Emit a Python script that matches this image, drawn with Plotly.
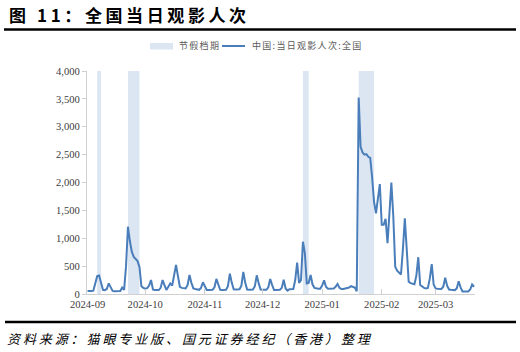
import plotly.graph_objects as go
import pandas as pd

# ---------------- data ----------------
start_date = "2024-09-10"
audience = [
    55, 50, 55, 60, 200, 320, 330, 200, 75, 70,
    90, 190, 120, 55, 50, 50, 50, 55, 115, 75,
    500, 1207, 950, 760, 665, 625, 590, 480, 140, 110,
    95, 105, 150, 250, 80, 70, 70, 70, 110, 250,
    160, 72, 130, 190, 150, 330, 520, 320, 130, 110,
    100, 100, 160, 340, 200, 100, 90, 80, 75, 110,
    210, 140, 72, 70, 70, 75, 120, 270, 170, 75,
    70, 70, 75, 140, 365, 200, 85, 80, 80, 85,
    150, 395, 200, 80, 75, 75, 80, 140, 335, 190,
    80, 75, 75, 75, 120, 270, 160, 70, 70, 70,
    75, 110, 255, 100, 60, 85, 85, 90, 250, 562,
    200, 250, 938, 740, 190, 200, 340, 170, 110, 100,
    95, 95, 150, 245, 130, 95, 95, 95, 100, 130,
    180, 110, 90, 90, 95, 100, 115, 140, 130, 115,
    50, 3525, 2640, 2540, 2500, 2510, 2460, 2440, 2090, 1650,
    1447, 1750, 1970, 1240, 1240, 1350, 910, 1450, 2000, 1400,
    490, 420, 380, 350, 800, 1357, 800, 221, 195, 180,
    175, 330, 660, 160, 130, 110, 100, 110, 280, 535,
    170, 100, 95, 90, 90, 130, 290, 150, 80, 75,
    70, 70, 100, 230, 120, 45, 45, 45, 45, 80,
    170, 130,
]
dates = pd.date_range(start_date, periods=len(audience), freq="D")

holiday_starts = ["2024-09-15", "2024-10-01", "2024-12-31", "2025-01-29"]
holiday_ends = ["2024-09-17", "2024-10-07", "2025-01-03", "2025-02-06"]

tick_dates = ["2024-09-10", "2024-10-10", "2024-11-10", "2024-12-10",
              "2025-01-10", "2025-02-10", "2025-03-10"]
tick_labels = ["2024-09", "2024-10", "2024-11", "2024-12",
               "2025-01", "2025-02", "2025-03"]
y_ticks = [0, 500, 1000, 1500, 2000, 2500, 3000, 3500, 4000]
y_labels = [f"{v:,}" for v in y_ticks]

series_name = "中国:当日观影人次:全国"
band_name = "节假档期"
title_text = "图 11：全国当日观影人次"
source_text = "资料来源：猫眼专业版、国元证券经纪（香港）整理"

# ---------------- style ----------------
W, H = 520, 352
L, R, T, B = 87, 475, 71, 294
line_color = "#4a7ebb"
band_color = "#dce6f2"
axis_color = "#d0d0d0"
cjk = "Noto Sans CJK SC"
serif = "Liberation Serif"


def px(x):
    return (x - L) / (R - L)


def py(y):
    return (B - y) / (B - T)


fig = go.Figure()
fig.add_trace(go.Scatter(
    x=dates, y=audience, mode="lines", name=series_name,
    line=dict(color=line_color, width=2), showlegend=False,
))

shapes = []
for s, e in zip(holiday_starts, holiday_ends):
    shapes.append(dict(type="rect", xref="x", yref="y", x0=s, x1=e,
                       y0=0, y1=4000, fillcolor=band_color,
                       line=dict(width=0), layer="below"))

# title underline and bottom rule
shapes.append(dict(type="line", xref="paper", yref="paper",
                   x0=px(4), x1=px(516), y0=py(29.5), y1=py(29.5),
                   line=dict(color="black", width=2.5)))
shapes.append(dict(type="line", xref="paper", yref="paper",
                   x0=px(5), x1=px(516), y0=py(322), y1=py(322),
                   line=dict(color="black", width=2.5)))
# legend swatches
shapes.append(dict(type="rect", xref="paper", yref="paper",
                   x0=px(150), x1=px(173), y0=py(49.5), y1=py(43),
                   fillcolor=band_color, line=dict(width=0)))
shapes.append(dict(type="line", xref="paper", yref="paper",
                   x0=px(222), x1=px(245), y0=py(46), y1=py(46),
                   line=dict(color=line_color, width=2)))

annotations = [
    dict(xref="paper", yref="paper", x=px(7), y=py(15), xanchor="left",
         yanchor="middle", showarrow=False,
         text=f'<span style="letter-spacing:3.6px"><b>{title_text}</b></span>',
         font=dict(family=cjk, size=17, color="black")),
    dict(xref="paper", yref="paper", x=px(177), y=py(46), xanchor="left",
         yanchor="middle", showarrow=False,
         text=f'<span style="letter-spacing:1.3px">{band_name}</span>',
         font=dict(family=cjk, size=9, color="#595959")),
    dict(xref="paper", yref="paper", x=px(250), y=py(46), xanchor="left",
         yanchor="middle", showarrow=False,
         text=f'<span style="letter-spacing:1.3px">{series_name}</span>',
         font=dict(family=cjk, size=9, color="#595959")),
    dict(xref="paper", yref="paper", x=px(5), y=py(338), xanchor="left",
         yanchor="middle", showarrow=False,
         text=f'<span style="letter-spacing:2.9px"><i>{source_text}</i></span>',
         font=dict(family=cjk, size=13, color="black")),
]

x0 = pd.Timestamp("2024-09-01") + pd.Timedelta(hours=8.7 * 24)
x1 = pd.Timestamp("2024-09-01") + pd.Timedelta(hours=210.5 * 24)

fig.update_layout(
    width=W, height=H,
    margin=dict(l=L, r=W - R, t=T, b=H - B, pad=0),
    paper_bgcolor="white", plot_bgcolor="white",
    shapes=shapes, annotations=annotations,
    xaxis=dict(
        type="date", range=[x0, x1], tickmode="array",
        tickvals=tick_dates, ticktext=tick_labels,
        ticks="inside", ticklen=5, tickcolor=axis_color, tickwidth=1,
        showline=True, linecolor=axis_color, linewidth=1,
        showgrid=False, zeroline=False,
        tickfont=dict(family=serif, size=10.6, color="#404040"),
    ),
    yaxis=dict(
        range=[0, 4000], tickmode="array", tickvals=y_ticks, ticktext=y_labels,
        ticks="outside", ticklen=4, tickcolor=axis_color, tickwidth=1,
        showline=True, linecolor=axis_color, linewidth=1,
        showgrid=False, zeroline=False,
        tickfont=dict(family=serif, size=10.6, color="#404040"),
    ),
)

fig.write_html("out.html")
